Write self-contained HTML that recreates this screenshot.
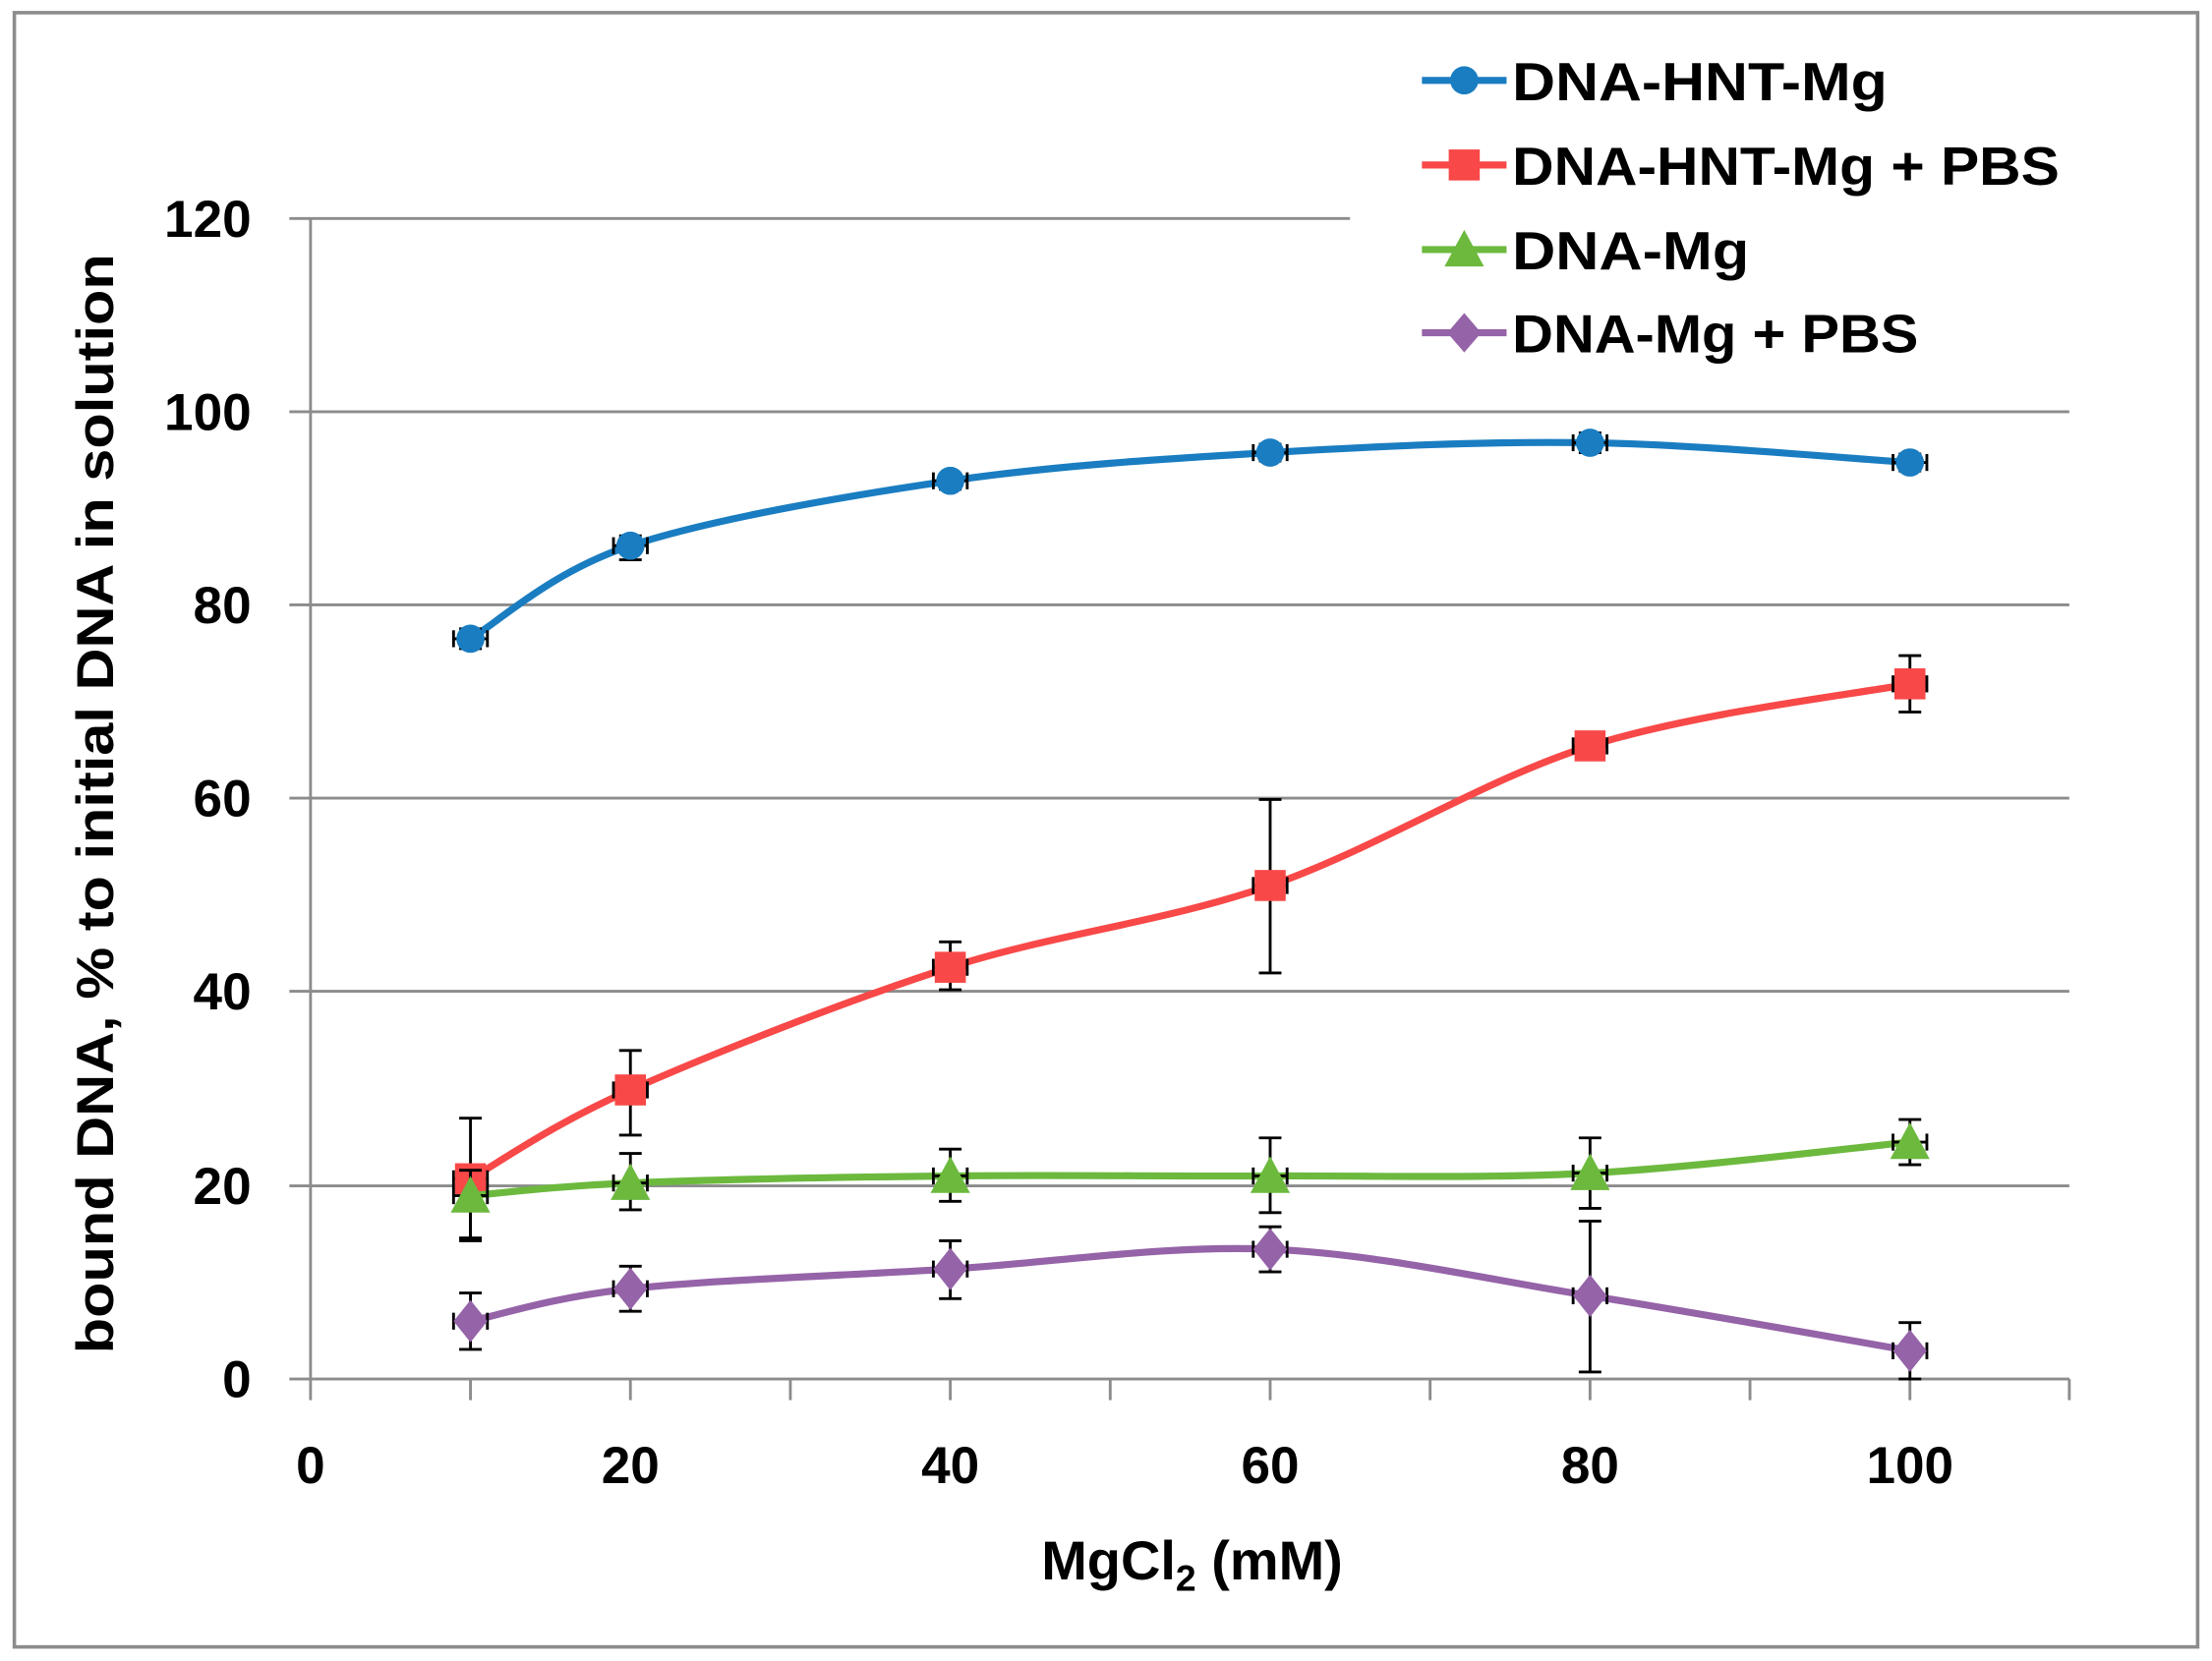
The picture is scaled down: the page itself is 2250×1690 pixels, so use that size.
<!DOCTYPE html>
<html><head><meta charset="utf-8"><style>
html,body{margin:0;padding:0;background:#fff}
svg{display:block}
text{font-family:"Liberation Sans",sans-serif;font-weight:bold;fill:#000}
</style></head><body>
<svg id="s" width="2250" height="1690" viewBox="0 0 1568 1178" xmlns="http://www.w3.org/2000/svg">
<rect x="10" y="9" width="1548" height="1159" fill="#fff" stroke="#8c8c8c" stroke-width="2.5"/>
<g stroke="#8c8c8c" stroke-width="2">
<line x1="205" y1="155" x2="957" y2="155"/>
<line x1="205" y1="292" x2="1467" y2="292"/>
<line x1="205" y1="429" x2="1467" y2="429"/>
<line x1="205" y1="566" x2="1467" y2="566"/>
<line x1="205" y1="703" x2="1467" y2="703"/>
<line x1="205" y1="841" x2="1467" y2="841"/>
<line x1="205" y1="978" x2="1467" y2="978"/>
<line x1="220" y1="155" x2="220" y2="993"/>
<line x1="333.4" y1="978" x2="333.4" y2="993"/><line x1="446.8" y1="978" x2="446.8" y2="993"/>
<line x1="560.2" y1="978" x2="560.2" y2="993"/><line x1="673.6" y1="978" x2="673.6" y2="993"/>
<line x1="787" y1="978" x2="787" y2="993"/><line x1="900.4" y1="978" x2="900.4" y2="993"/>
<line x1="1013.8" y1="978" x2="1013.8" y2="993"/><line x1="1127.2" y1="978" x2="1127.2" y2="993"/>
<line x1="1240.6" y1="978" x2="1240.6" y2="993"/><line x1="1354" y1="978" x2="1354" y2="993"/>
<line x1="1467" y1="978" x2="1467" y2="993"/>
</g>
<g font-size="37" text-anchor="end">
<text x="178" y="168">120</text><text x="178" y="305">100</text><text x="178" y="442">80</text>
<text x="178" y="579">60</text><text x="178" y="716">40</text><text x="178" y="854">20</text><text x="178" y="991">0</text>
</g>
<g font-size="37" text-anchor="middle">
<text x="220" y="1052">0</text><text x="446.8" y="1052">20</text><text x="673.6" y="1052">40</text>
<text x="900.4" y="1052">60</text><text x="1127.2" y="1052">80</text><text x="1354" y="1052">100</text>
</g>
<text x="845" y="1120" font-size="39" text-anchor="middle">MgCl<tspan font-size="26" dy="8">2</tspan><tspan dy="-8"> (mM)</tspan></text>
<text transform="translate(80,570) rotate(-90)" font-size="37" text-anchor="middle" textLength="780" lengthAdjust="spacingAndGlyphs">bound DNA, % to initial DNA in solution</text>
<g id="series"></g>
<g font-size="38">
<line x1="1008" y1="57" x2="1068" y2="57" stroke="#1a7dc1" stroke-width="5"/><circle cx="1038" cy="57" r="10" fill="#1a7dc1"/>
<text x="1072" y="71" textLength="266" lengthAdjust="spacingAndGlyphs">DNA-HNT-Mg</text>
<line x1="1008" y1="117" x2="1068" y2="117" stroke="#f84848" stroke-width="5"/><rect x="1027" y="106" width="22" height="22" fill="#f84848"/>
<text x="1072" y="131" textLength="388" lengthAdjust="spacingAndGlyphs">DNA-HNT-Mg + PBS</text>
<line x1="1008" y1="177" x2="1068" y2="177" stroke="#6cb93e" stroke-width="5"/><polygon points="1038,163 1052,189 1024,189" fill="#6cb93e"/>
<text x="1072" y="191" textLength="168" lengthAdjust="spacingAndGlyphs">DNA-Mg</text>
<line x1="1008" y1="236" x2="1068" y2="236" stroke="#9563a8" stroke-width="5"/><polygon points="1038,222 1050,236 1038,250 1026,236" fill="#9563a8"/>
<text x="1072" y="250" textLength="288" lengthAdjust="spacingAndGlyphs">DNA-Mg + PBS</text>
</g>
</svg>
<script>
var X=[333.4,446.8,673.6,900.4,1127.2,1354];
var S=[
{c:"#1a7dc1",m:"c",y:[453,387,341,321,314,328],e:[[446,460],[380,397],[336,347],[315,327],[307,321],[322,334]]},
{c:"#f84848",m:"s",y:[836,773,686,628,529,485],e:[[793,880],[745,805],[668,702],[567,690],[522,538],[465,505]]},
{c:"#6cb93e",m:"t",y:[848,839,834,834,832,810],e:[[830,878],[818,858],[815,852],[807,860],[807,857],[794,826]]},
{c:"#9563a8",m:"d",y:[937,914,900,886,919,958],e:[[917,957],[898,930],[880,921],[870,902],[866,973],[938,978]]}];
var g=document.getElementById("series"),ns="http://www.w3.org/2000/svg",h="";
S.forEach(function(s){
 var p=X.map(function(x,i){return[x,s.y[i]]});
 var d="M"+p[0][0]+","+p[0][1];
 for(var i=0;i<p.length-1;i++){
  var p0=p[i-1]||p[i],p1=p[i],p2=p[i+1],p3=p[i+2]||p2,t=6;
  d+=" C"+(p1[0]+(p2[0]-p0[0])/t)+","+(p1[1]+(p2[1]-p0[1])/t)+" "+(p2[0]-(p3[0]-p1[0])/t)+","+(p2[1]-(p3[1]-p1[1])/t)+" "+p2[0]+","+p2[1];
 }
 h+='<path d="'+d+'" fill="none" stroke="'+s.c+'" stroke-width="5"/>';
 p.forEach(function(q,i){
  var x=q[0],y=q[1],e=s.e[i];
  h+='<g stroke="#000" stroke-width="2"><line x1="'+x+'" y1="'+e[0]+'" x2="'+x+'" y2="'+e[1]+'"/><line x1="'+(x-8)+'" y1="'+e[0]+'" x2="'+(x+8)+'" y2="'+e[0]+'"/><line x1="'+(x-8)+'" y1="'+e[1]+'" x2="'+(x+8)+'" y2="'+e[1]+'"/><line x1="'+(x-12)+'" y1="'+y+'" x2="'+(x+12)+'" y2="'+y+'"/><line x1="'+(x-12)+'" y1="'+(y-6)+'" x2="'+(x-12)+'" y2="'+(y+6)+'"/><line x1="'+(x+12)+'" y1="'+(y-6)+'" x2="'+(x+12)+'" y2="'+(y+6)+'"/></g>';
  if(s.m=="c")h+='<circle cx="'+x+'" cy="'+y+'" r="10" fill="'+s.c+'"/>';
  if(s.m=="s")h+='<rect x="'+(x-11)+'" y="'+(y-11)+'" width="22" height="22" fill="'+s.c+'"/>';
  if(s.m=="t")h+='<polygon points="'+x+','+(y-14)+' '+(x+14)+','+(y+12)+' '+(x-14)+','+(y+12)+'" fill="'+s.c+'"/>';
  if(s.m=="d")h+='<polygon points="'+x+','+(y-15)+' '+(x+12)+','+y+' '+x+','+(y+15)+' '+(x-12)+','+y+'" fill="'+s.c+'"/>';
 });
});
g.innerHTML=h;
</script>
</body></html>
